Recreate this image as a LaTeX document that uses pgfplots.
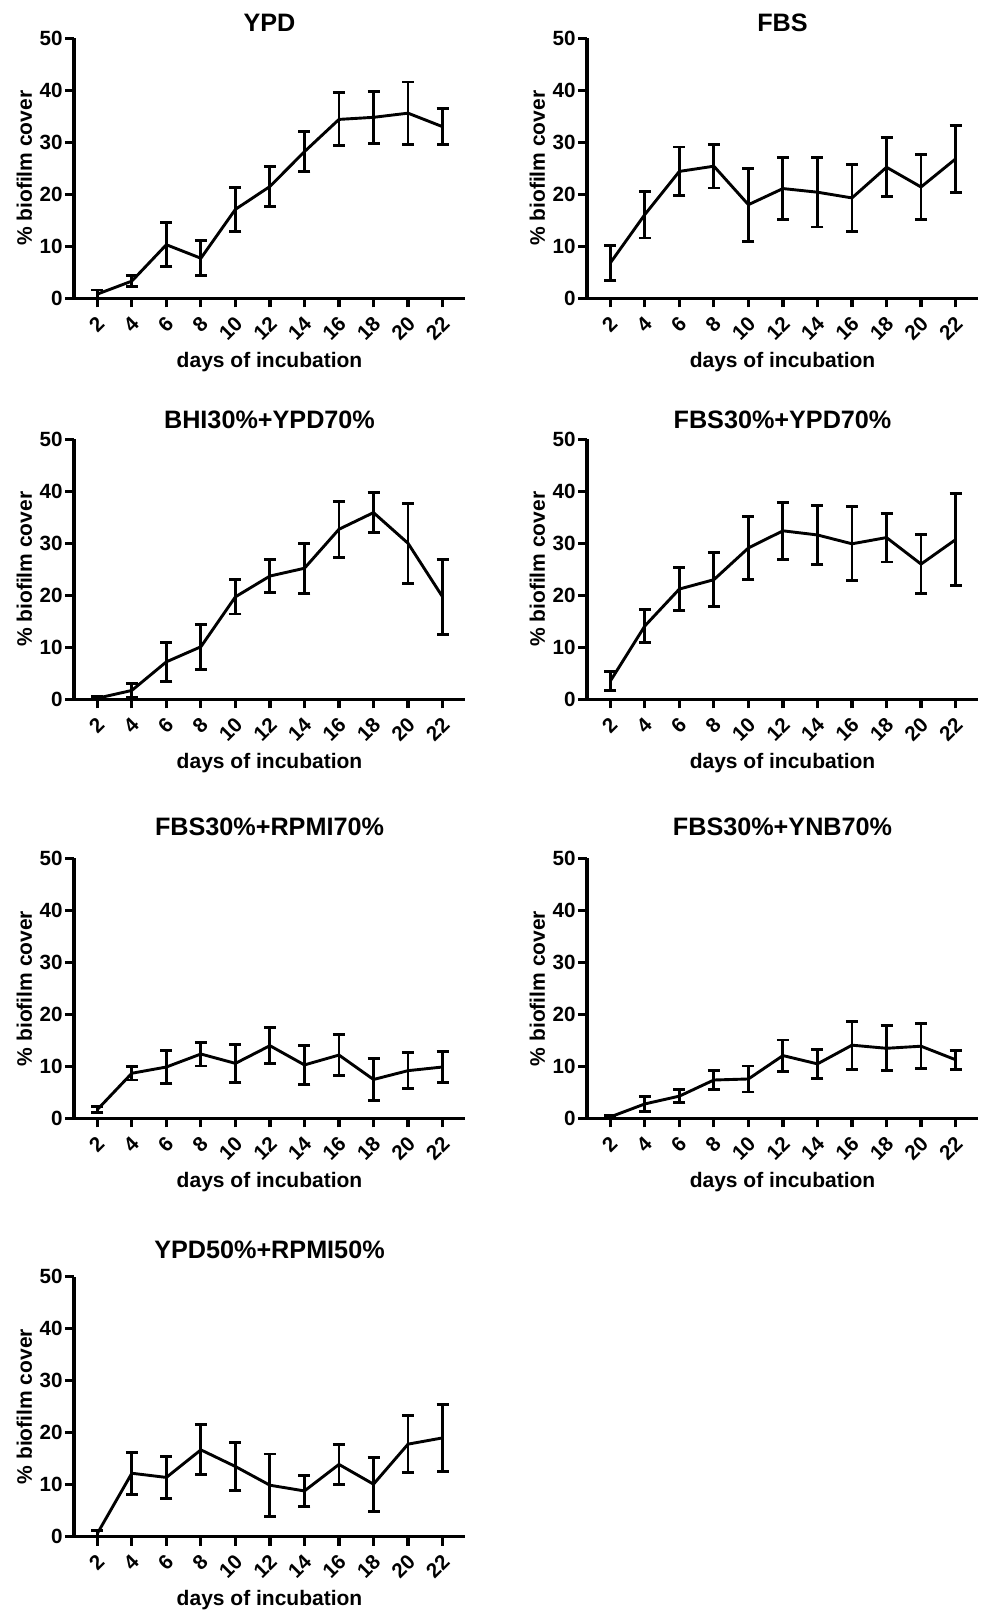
\documentclass[border=0pt]{standalone}
\usepackage{pgfplots}
\pgfplotsset{compat=1.18}
\usepackage{fontspec}
\setmainfont{Liberation Sans}
\pgfplotsset{panel/.style={
  scale only axis, width=195.5pt, height=130pt,
  xmin=0.65, xmax=23.3, ymin=0, ymax=50,
  axis lines=left, axis line style={-, line width=1.6pt},
  xtick={2,4,...,22}, ytick={0,10,...,50},
  tick align=outside, major tick length=4.5pt,
  tick style={line width=1.6pt, black},
  /pgf/number format/assume math mode=true,
  ticklabel style={font=\fontsize{10.3}{11}\selectfont\bfseries},
  xticklabel shift=5.5pt,
  xticklabel style={xshift=2.5pt, rotate=45, anchor=east, inner sep=1pt},
  yticklabel style={inner sep=1pt},
  xlabel={days of incubation}, ylabel={\% biofilm cover},
  label style={font=\fontsize{10.5}{12}\selectfont\bfseries},
  xlabel style={at={(axis description cs:0.5,-0.265)}, anchor=base},
  ylabel style={at={(axis description cs:-0.127,0.5)}, anchor=center},
  title style={font=\fontsize{12.6}{14}\selectfont\bfseries, anchor=base, yshift=-6pt},
},
series/.style={black, line width=1.45pt, mark=none,
  every mark/.append style={line width=1.45pt},
  error bars/.cd, y dir=both, y explicit,
  error bar style={line width=1.45pt, black},
  error mark options={rotate=90, mark size=3pt, black, line width=1.45pt}},
}
\begin{document}
\begin{tikzpicture}
\path[use as bounding box] (0,0) rectangle (490.5pt,805.5pt);
% Row 1
\begin{axis}[panel, at={(37pt,656.35pt)}, anchor=south west, title={YPD},
  title style={at={(axis description cs:0.5,1.0254)}}]
\addplot[series] coordinates {(2,0.8) +- (0,0.8) (4,3.3) +- (0,1.1) (6,10.3) +- (0,4.2) (8,7.7) +- (0,3.4) (10,17.1) +- (0,4.2) (12,21.5) +- (0,3.8) (14,28.2) +- (0,3.8) (16,34.4) +- (0,5.1) (18,34.8) +- (0,5.0) (20,35.6) +- (0,6.0) (22,33.0) +- (0,3.5)};
\end{axis}
\begin{axis}[panel, at={(293.5pt,656.35pt)}, anchor=south west, title={FBS},
  title style={at={(axis description cs:0.5,1.0254)}}]
\addplot[series] coordinates {(2,6.8) +- (0,3.3) (4,16.1) +- (0,4.5) (6,24.4) +- (0,4.7) (8,25.4) +- (0,4.2) (10,18.0) +- (0,7.0) (12,21.1) +- (0,6.0) (14,20.4) +- (0,6.7) (16,19.3) +- (0,6.4) (18,25.2) +- (0,5.7) (20,21.4) +- (0,6.3) (22,26.8) +- (0,6.5)};
\end{axis}
% Row 2
\begin{axis}[panel, at={(37pt,455.85pt)}, anchor=south west, title={BHI30\%+YPD70\%},
  title style={at={(axis description cs:0.5,1.0423)}}]
\addplot[series] coordinates {(2,0.2) +- (0,0.3) (4,1.7) +- (0,1.3) (6,7.2) +- (0,3.7) (8,10.1) +- (0,4.3) (10,19.7) +- (0,3.3) (12,23.7) +- (0,3.2) (14,25.2) +- (0,4.8) (16,32.7) +- (0,5.4) (18,35.9) +- (0,3.9) (20,30.0) +- (0,7.7) (22,19.7) +- (0,7.2)};
\end{axis}
\begin{axis}[panel, at={(293.5pt,455.85pt)}, anchor=south west, title={FBS30\%+YPD70\%},
  title style={at={(axis description cs:0.5,1.0423)}}]
\addplot[series] coordinates {(2,3.5) +- (0,1.8) (4,14.1) +- (0,3.2) (6,21.2) +- (0,4.2) (8,23.0) +- (0,5.2) (10,29.1) +- (0,6.1) (12,32.4) +- (0,5.5) (14,31.6) +- (0,5.6) (16,29.9) +- (0,7.1) (18,31.1) +- (0,4.7) (20,26.0) +- (0,5.7) (22,30.7) +- (0,8.9)};
\end{axis}
% Row 3
\begin{axis}[panel, at={(37pt,246.25pt)}, anchor=south west, title={FBS30\%+RPMI70\%},
  title style={at={(axis description cs:0.5,1.09)}}]
\addplot[series] coordinates {(2,1.7) +- (0,0.6) (4,8.7) +- (0,1.3) (6,9.9) +- (0,3.2) (8,12.4) +- (0,2.3) (10,10.6) +- (0,3.6) (12,14.0) +- (0,3.5) (14,10.3) +- (0,3.7) (16,12.2) +- (0,4.0) (18,7.5) +- (0,4.1) (20,9.2) +- (0,3.5) (22,9.9) +- (0,3.0)};
\end{axis}
\begin{axis}[panel, at={(293.5pt,246.25pt)}, anchor=south west, title={FBS30\%+YNB70\%},
  title style={at={(axis description cs:0.5,1.09)}}]
\addplot[series] coordinates {(2,0.3) +- (0,0.3) (4,2.8) +- (0,1.5) (6,4.3) +- (0,1.3) (8,7.4) +- (0,1.8) (10,7.6) +- (0,2.5) (12,12.1) +- (0,3.0) (14,10.5) +- (0,2.8) (16,14.1) +- (0,4.6) (18,13.5) +- (0,4.3) (20,13.9) +- (0,4.3) (22,11.3) +- (0,1.8)};
\end{axis}
% Row 4
\begin{axis}[panel, at={(37pt,37.15pt)}, anchor=south west, title={YPD50\%+RPMI50\%},
  title style={at={(axis description cs:0.5,1.0708)}}]
\addplot[series] coordinates {(2,0.6) +- (0,0.6) (4,12.2) +- (0,4.0) (6,11.4) +- (0,4.0) (8,16.7) +- (0,4.8) (10,13.5) +- (0,4.6) (12,9.9) +- (0,6.0) (14,8.8) +- (0,3.0) (16,13.9) +- (0,3.9) (18,10.1) +- (0,5.2) (20,17.8) +- (0,5.5) (22,19.0) +- (0,6.5)};
\end{axis}
\end{tikzpicture}
\end{document}
